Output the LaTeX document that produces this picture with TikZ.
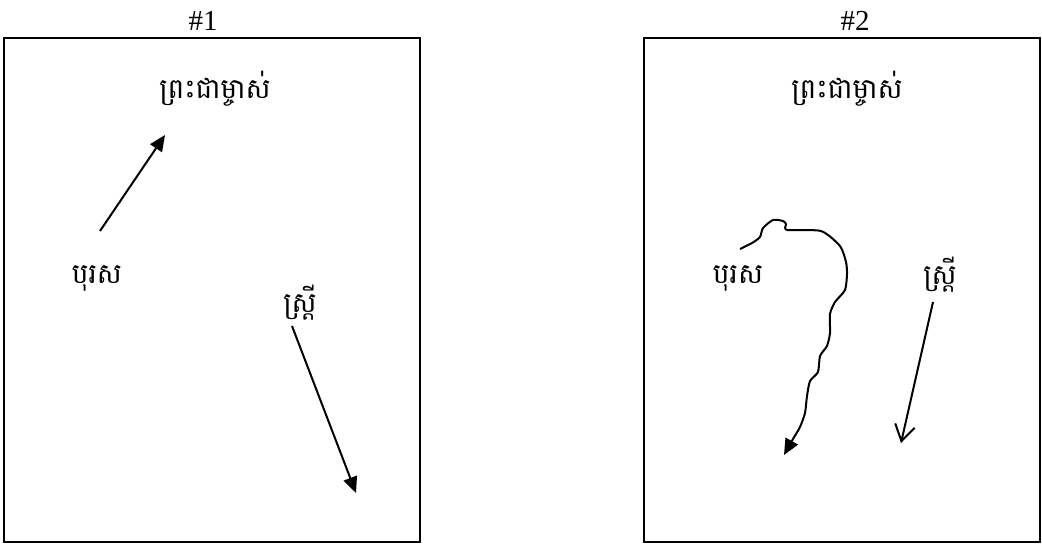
\documentclass[tikz,border=0pt]{standalone}
\usepackage{fontspec}
\setmainfont{Liberation Serif}
\newfontfamily\khmerfont[Script=Khmer]{Battambang}
\usetikzlibrary{arrows.meta}
\tikzset{%
	frame/.style = {draw, line width = 1.3pt},
	num/.style = {font = \fontsize{29}{30}\selectfont, inner sep = 0pt},
	khm/.style = {font = \khmerfont\fontsize{28}{32}\selectfont, inner sep = 0pt},
	arr/.style = {line width = 2pt, -{Triangle[length = 16pt, width = 14pt]}},
	barb/.style = {line width = 2pt, -{Straight Barb[length = 16pt, width = 20pt]}}
}
\begin{document}
\begin{tikzpicture}[x = 1pt, y = -1pt]
			\useasboundingbox (0,0) rectangle (1042,544);
			% left panel
			\draw [frame] (4,38) rectangle (420,542);
			\node [num] (label1) at (203,21) {\#1};
			\node [khm] (title1) at (215,89) {ព្រះជាម្ចាស់};
			\node [khm] (man1) at (97,278) {បុរស};
			\node [khm] (woman1) at (300,303) {ស្ត្រី};
			\coordinate (a1s) at (100,231);
			\coordinate (a1e) at (165,135);
			\coordinate (b1s) at (292,326);
			\coordinate (b1e) at (356,493);
			\draw [arr] (a1s) -- (a1e);
			\draw [arr] (b1s) -- (b1e);
			% right panel
			\draw [frame] (644,38) rectangle (1040,542);
			\node [num] (label2) at (855,21) {\#2};
			\node [khm] (title2) at (847,89) {ព្រះជាម្ចាស់};
			\node [khm] (man2) at (738,278) {បុរស};
			\node [khm] (woman2) at (940,275) {ស្ត្រី};
			\coordinate (a2s) at (740,249);
			\coordinate (a2e) at (784,455);
			\coordinate (b2s) at (933,302);
			\coordinate (b2e) at (901,443);
			\draw [arr] plot [smooth, tension = 0.4] coordinates {(a2s) (752,243) (760,237) (763,228) (773,220) (783,221) (786,224) (787,230) (821,231) (840,246) (846,262) (847,274) (845,290) (835,302) (830,314) (830,333) (827,346) (820,356) (818,372) (810,381) (807,396) (805,413) (800,427) (793,439) (a2e)};
			\draw [barb] (b2s) -- (b2e);
\end{tikzpicture}
\end{document}
